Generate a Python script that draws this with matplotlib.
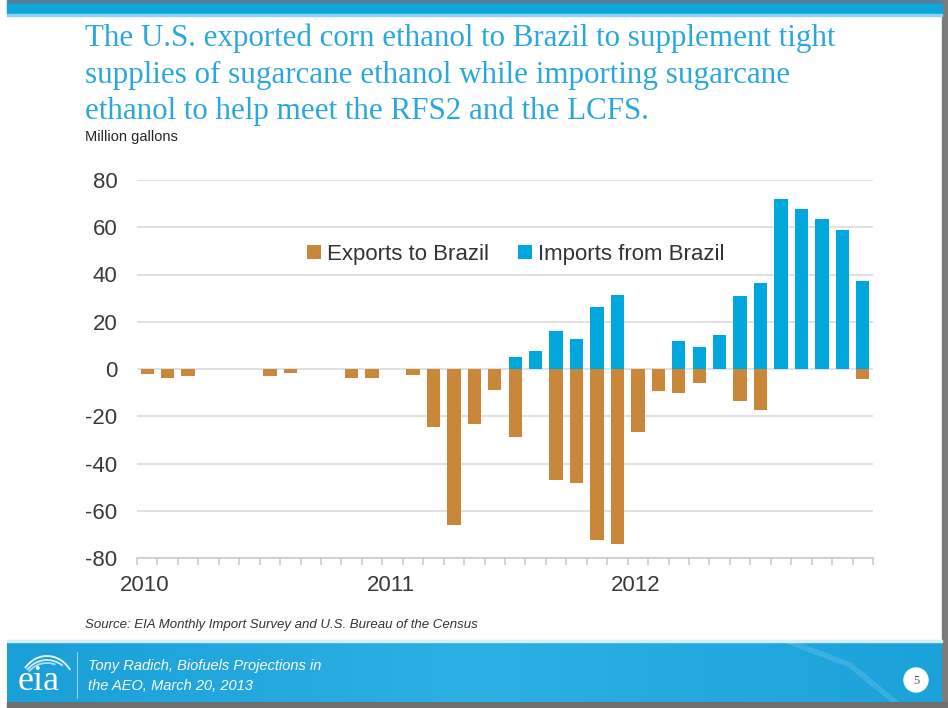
import numpy as np
import matplotlib
matplotlib.use('Agg')
import matplotlib.pyplot as plt
from matplotlib.patches import Rectangle, Circle, Arc

# monthly values, Jan 2010 .. Dec 2012 (million gallons)
exports_2010 = [-2.1, -3.8, -2.8, 0, 0, 0, -3.1, -1.8, 0, 0, -3.8, -3.8]
exports_2011 = [0, -2.4, -24.4, -65.9, -23.4, -9.0, -28.9, 0, -47.1, -48.2, -72.2, -73.9]
exports_2012 = [-26.5, -9.4, -10.2, -5.9, 0, -13.7, -17.5, 0, 0, 0, 0, -4.1]
imports_2010 = [0] * 12
imports_2011 = [0, 0, 0, 0, 0, 0, 5.1, 7.8, 16.2, 12.7, 26.2, 31.5]
imports_2012 = [0, 0, 11.7, 9.3, 14.5, 30.7, 36.4, 72.1, 67.7, 63.5, 59.0, 37.1]
years = ['2010', '2011', '2012']
yticks = [-80, -60, -40, -20, 0, 20, 40, 60, 80]

exports = exports_2010 + exports_2011 + exports_2012
imports = imports_2010 + imports_2011 + imports_2012

title_lines = ['The U.S. exported corn ethanol to Brazil to supplement tight',
               'supplies of sugarcane ethanol while importing sugarcane',
               'ethanol to help meet the RFS2 and the LCFS.']

W, H = 948, 708
plt.rcParams['font.family'] = ['Liberation Sans', 'DejaVu Sans']
fig = plt.figure(figsize=(W / 100, H / 100), dpi=100)

# slide background drawn in pixel coords
bg = fig.add_axes([0, 0, 1, 1], zorder=0)
bg.set_xlim(0, W)
bg.set_ylim(H, 0)
bg.axis('off')
bg.add_patch(Rectangle((0, 0), W, H, color='white'))
bg.add_patch(Rectangle((942, 0), 6, H, color='#7b7b7b'))
bg.add_patch(Rectangle((7, 702), W, 6, color='#6f6f6f'))
bg.add_patch(Rectangle((7, 0), 935, 4, color='#557f95'))
bg.add_patch(Rectangle((7, 4), 935, 10, color='#0ba6da'))
bg.add_patch(Rectangle((7, 14), 935, 2, color='#8fd3ee'))

# footer band with a soft gradient
grad = np.linspace(0, 1, 256).reshape(1, -1)
cmap = matplotlib.colors.LinearSegmentedColormap.from_list('ft', ['#1a9fd8', '#2cb0e4', '#1ba2da'])
bg.imshow(grad, extent=(7, 942, 702, 641), aspect='auto', cmap=cmap, zorder=1)
bg.add_patch(Rectangle((7, 640), 935, 2, color='#d5eef9', zorder=2))
sw, = bg.plot([790, 850, 895], [642, 665, 702], color='white', alpha=0.12, lw=4, zorder=2)
sw.set_clip_path(Rectangle((7, 642), 935, 60, transform=bg.transData))
bg.plot([77, 77], [652, 698], color='white', alpha=0.5, lw=0.8, zorder=3)

# eia logo
bg.text(39, 690, 'eia', color='white', fontsize=26, family='Liberation Serif',
        ha='center', va='baseline', zorder=3)
for w, h, t2, a in [(56, 64, 322, 0.95), (52, 56, 305, 0.8), (48, 50, 290, 0.65)]:
    bg.add_patch(Arc((47, 688), w, h, theta1=222, theta2=t2, color='white',
                     lw=1.3, alpha=a, zorder=3))

bg.text(88, 666, 'Tony Radich, Biofuels Projections in', color='white', fontsize=10.5,
        style='italic', va='center', zorder=3)
bg.text(88, 686, 'the AEO, March 20, 2013', color='white', fontsize=10.5,
        style='italic', va='center', zorder=3)
bg.add_patch(Circle((916, 680), 12, color='white', zorder=3))
bg.text(916, 681, '5', color='#555555', fontsize=9, family='Liberation Serif',
        ha='center', va='center', zorder=4)

# title and notes
for i, line in enumerate(title_lines):
    bg.text(85, 46 + 36.5 * i, line, color='#2aa8dc', fontsize=22.3,
            family='Liberation Serif', va='baseline')
bg.text(85, 137, 'Million gallons', color='#262626', fontsize=10.5, va='center')
bg.text(85, 625, 'Source: EIA Monthly Import Survey and U.S. Bureau of the Census',
        color='#333333', fontsize=9.5, style='italic', va='center')

# chart
ax = fig.add_axes([137 / W, 1 - 558 / H, 736 / W, 378 / H], zorder=2)
ax.patch.set_alpha(0)
x = np.arange(len(exports)) + 0.5
ax.bar(x, exports, width=0.65, color='#c9873a', label='Exports to Brazil', zorder=3)
ax.bar(x, imports, width=0.65, color='#00a7dc', label='Imports from Brazil', zorder=3)

ax.set_xlim(0, 36)
ax.set_ylim(-80, 80)
ax.set_yticks(yticks)
ax.set_yticklabels([str(v) for v in yticks])
ax.grid(axis='y', color='#d9d9d9', lw=1.1, zorder=0)
for s in ['top', 'right', 'left']:
    ax.spines[s].set_visible(False)
ax.spines['bottom'].set_color('#c8c8c8')
ax.spines['bottom'].set_linewidth(1.1)
ax.tick_params(axis='y', length=0, pad=14, labelsize=16, labelcolor='#3a3a3a')
ax.set_xticks(np.arange(37), minor=True)
ax.tick_params(axis='x', which='minor', length=5, color='#c8c8c8', width=1.1)
ax.set_xticks([0.4, 12.4, 24.4])
ax.set_xticklabels(years)
ax.tick_params(axis='x', which='major', length=0, pad=12, labelsize=16, labelcolor='#3a3a3a')

fig.legend(loc='center', bbox_to_anchor=(516 / W, 1 - 254 / H), ncol=2, frameon=False,
           fontsize=16, handlelength=0.6, handleheight=0.6, handletextpad=0.3,
           columnspacing=1.3, labelcolor='#333333')

fig.savefig('out.png', dpi=100)
